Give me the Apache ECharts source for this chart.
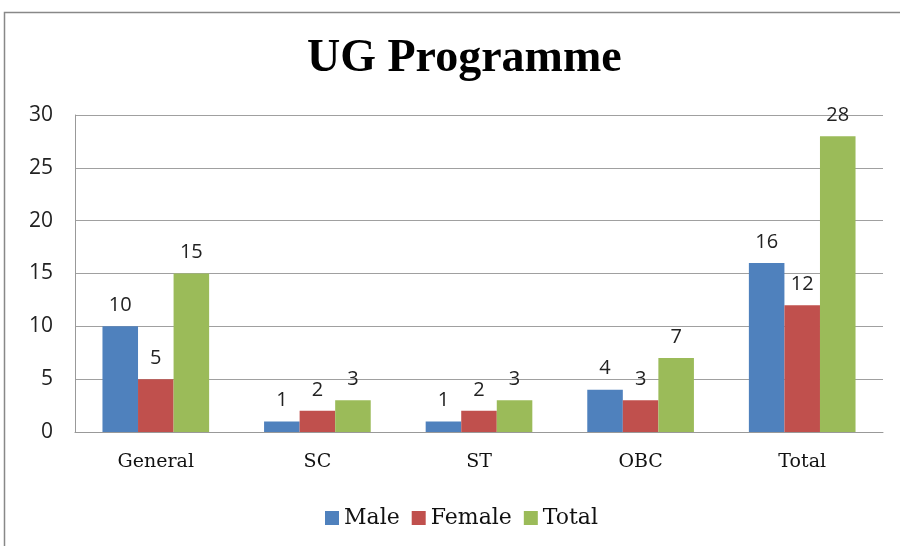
<!DOCTYPE html>
<html><head><meta charset="utf-8">
<script src="https://cdn.jsdelivr.net/npm/echarts@6/dist/echarts.min.js"></script>
<style>html,body{margin:0;padding:0;background:#fff}#c{width:900px;height:546px}</style>
</head><body><div id="c"></div>
<script>
const categories = ['General','SC','ST','OBC','Total'];
const maleValues = [10,1,1,4,16];
const femaleValues = [5,2,2,3,12];
const totalValues = [15,3,3,7,28];
const seriesNames = ['Male','Female','Total'];
const colors = ['#4F81BD','#C0504D','#9BBB59'];

const chart = echarts.init(document.getElementById('c'), null, {renderer:'canvas'});
const labelCfg = {show:true, position:'top', distance:11, color:'#222', fontSize:20, fontFamily:'Open Sans'};
chart.setOption({
  animation:false,
  backgroundColor:'#fff',
  graphic:[{type:'rect', shape:{x:4.5,y:12.5,width:900,height:540}, style:{fill:'none',stroke:'#888',lineWidth:1.5}, silent:true}],
  title:{text:'UG Programme', left:302, top:31, textStyle:{fontFamily:'Liberation Serif', fontWeight:'bold', fontSize:46, color:'#000'}},
  legend:{data:seriesNames, bottom:12, left:320, itemWidth:14, itemHeight:14, itemGap:12, icon:'rect',
    textStyle:{fontFamily:'DejaVu Serif', fontSize:22, color:'#111'}},
  grid:{left:75, right:17, top:115, bottom:114},
  xAxis:{type:'category', data:categories, axisLine:{lineStyle:{color:'#999'}}, axisTick:{show:false},
    axisLabel:{fontFamily:'DejaVu Serif', fontSize:19, color:'#111', margin:21}},
  yAxis:{type:'value', min:0, max:30, interval:5, axisLine:{show:true, lineStyle:{color:'#999'}},
    splitLine:{lineStyle:{color:'#a0a0a0'}},
    axisLabel:{fontFamily:'Open Sans', fontSize:21, color:'#222', margin:22}},
  series:[
    {name:seriesNames[0], type:'bar', data:maleValues, itemStyle:{color:colors[0]}, barGap:'0%', barCategoryGap:'34%', label:labelCfg},
    {name:seriesNames[1], type:'bar', data:femaleValues, itemStyle:{color:colors[1]}, barGap:'0%', barCategoryGap:'34%', label:labelCfg},
    {name:seriesNames[2], type:'bar', data:totalValues, itemStyle:{color:colors[2]}, barGap:'0%', barCategoryGap:'34%', label:labelCfg}
  ]
});
</script></body></html>
